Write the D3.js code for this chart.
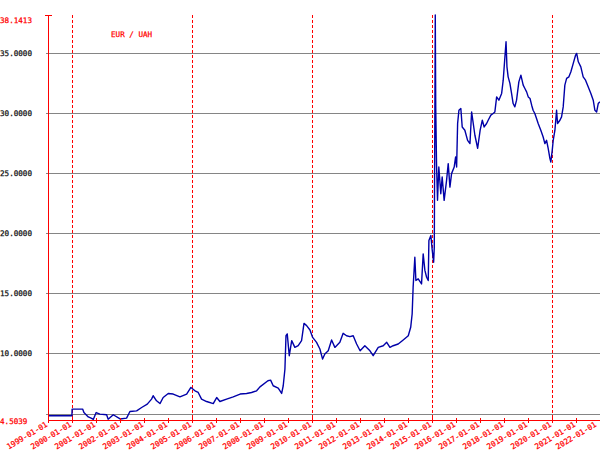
<!DOCTYPE html>
<html>
<head>
<meta charset="utf-8">
<script src="https://cdn.jsdelivr.net/npm/d3@7"></script>
<style>
  html, body { margin: 0; padding: 0; background: #fff; }
  svg { display: block; }
</style>
</head>
<body>
<svg id="chart" width="600" height="450"></svg>
<script>
// ---------------- DATA ----------------
const title = "EUR / UAH";
const yMin = 4.5039;
const yMax = 38.1413;
const yGridValues = [5, 10, 15, 20, 25, 30, 35];
const yLabelValues = [10, 15, 20, 25, 30, 35];
const dashedYears = ["2000-01-01", "2005-01-01", "2010-01-01", "2015-01-01", "2020-01-01"];
const xStart = "1999-01-01";
const xEnd = "2022-01-01";

const dates = [
  "1999-01-01","1999-12-31","2000-01-03","2000-06-11","2000-07-01","2000-09-05","2000-10-26","2000-11-20",
  "2001-01-03","2001-03-01","2001-06-11","2001-07-05","2001-09-20",
  "2002-01-02","2002-04-11","2002-06-01","2002-09-11","2002-11-26",
  "2003-02-20","2003-04-26","2003-05-20","2003-07-11","2003-09-01","2003-10-20",
  "2004-01-05","2004-03-20","2004-07-01","2004-10-11","2004-12-15",
  "2005-02-15","2005-04-05","2005-05-26","2005-08-11","2005-11-20",
  "2006-01-11","2006-03-01","2006-06-11","2006-09-20",
  "2007-01-03","2007-04-11","2007-06-26","2007-09-11","2007-11-01",
  "2008-03-01","2008-04-11","2008-05-20","2008-08-05","2008-09-26","2008-10-20","2008-11-15","2008-12-01","2008-12-20",
  "2009-01-20","2009-02-26","2009-04-15","2009-06-05","2009-07-26","2009-09-01","2009-10-11","2009-12-01",
  "2010-01-11","2010-03-11","2010-05-01","2010-06-11","2010-07-15","2010-09-05","2010-10-26","2010-12-15",
  "2011-03-01","2011-04-20","2011-06-11","2011-08-01","2011-09-20","2011-11-11",
  "2012-01-03","2012-03-15","2012-06-01","2012-07-20","2012-10-05","2012-12-20",
  "2013-02-11","2013-04-01","2013-05-20","2013-08-05","2013-10-20",
  "2014-01-05","2014-02-11","2014-03-05","2014-03-20","2014-04-15","2014-05-01","2014-06-05","2014-07-26","2014-08-20","2014-09-15","2014-10-11","2014-11-05","2014-11-15","2014-12-15",
  "2015-01-05","2015-01-26","2015-02-05","2015-02-20","2015-02-27","2015-03-11","2015-03-26","2015-04-15","2015-05-15","2015-06-05","2015-07-05","2015-08-11","2015-09-05","2015-10-01","2015-10-26","2015-12-05","2015-12-26",
  "2016-01-11","2016-01-26","2016-02-15","2016-03-15","2016-04-05","2016-05-15","2016-06-26","2016-08-01","2016-08-26","2016-09-20","2016-10-15","2016-11-26",
  "2017-01-03","2017-02-05","2017-03-05","2017-04-11","2017-05-05","2017-06-15","2017-07-20","2017-08-15","2017-09-11","2017-10-15","2017-11-26","2017-12-20",
  "2018-01-15","2018-02-01","2018-02-15","2018-03-05","2018-04-01","2018-04-26","2018-05-20","2018-06-15","2018-07-11","2018-08-15","2018-09-15","2018-10-20","2018-11-15","2018-12-11",
  "2019-01-05","2019-02-01","2019-02-26","2019-03-20","2019-04-15","2019-05-11","2019-06-05","2019-07-15","2019-08-20","2019-09-15","2019-10-11","2019-11-05","2019-12-01","2019-12-15",
  "2020-01-05","2020-01-20","2020-02-15","2020-03-11","2020-03-26","2020-05-01","2020-05-26","2020-06-20","2020-07-15","2020-08-11","2020-09-15","2020-10-15","2020-11-20","2020-12-26",
  "2021-01-11","2021-02-05","2021-03-15","2021-04-20","2021-05-26","2021-07-05","2021-08-15","2021-09-20","2021-10-15","2021-11-11","2021-12-05","2021-12-31"
];

const rates = [
  4.82,4.82,5.37,5.37,5.08,4.72,4.60,4.51,
  5.08,4.95,4.90,4.53,4.90,
  4.55,4.62,5.17,5.22,5.50,
  5.78,6.20,6.48,6.06,5.83,6.33,
  6.67,6.62,6.39,6.62,7.17,
  6.89,6.75,6.20,6.00,5.83,
  6.33,6.00,6.20,6.39,
  6.62,6.67,6.75,6.89,7.22,
  7.73,7.78,7.31,7.12,6.67,7.31,8.70,11.47,11.62,
  9.81,11.06,10.50,10.64,11.06,12.50,12.31,11.95,
  11.33,10.92,10.37,9.53,9.95,10.22,11.12,10.50,
  10.92,11.67,11.47,11.39,11.47,10.78,
  10.22,10.64,10.22,9.81,10.50,10.64,
  10.92,10.50,10.64,10.78,11.12,
  11.47,12.17,13.28,15.50,18.00,16.06,16.20,15.78,18.28,16.90,16.33,16.06,19.39,19.80,
  18.56,17.58,18.83,38.14,30.50,25.78,22.73,25.50,23.28,24.67,22.73,24.39,25.78,23.83,24.95,25.50,26.33,
  25.50,29.12,30.22,30.37,28.83,28.56,27.72,27.45,30.08,29.12,28.14,27.06,
  28.56,29.39,28.83,29.12,29.39,29.81,29.95,30.08,31.33,31.06,31.62,32.72,
  34.67,35.92,33.83,33.00,32.45,31.62,30.78,30.50,31.06,32.58,33.14,32.31,32.03,31.75,
  31.33,31.20,30.64,30.22,29.95,29.53,29.12,28.56,28.00,27.45,27.72,27.03,26.20,25.92,
  26.89,27.72,28.56,30.22,29.12,29.39,29.67,30.50,32.31,32.87,33.00,33.42,34.12,34.81,
  34.95,34.25,33.83,33.00,32.72,32.17,31.62,31.06,30.22,30.08,30.78,30.92
];

// ---------------- CHART ----------------
const parse = d3.utcParse("%Y-%m-%d");
const fmt = d3.utcFormat("%Y-%m-%d");
const n = Math.min(dates.length, rates.length);
const series = d3.range(n).map(i => ({ d: parse(dates[i]), v: rates[i] }));

const svg = d3.select("#chart");
const FONT = "'DejaVu Sans Mono', 'Liberation Mono', monospace";
const FS = 7.6;
const RED = "#ff0000";

const x = d3.scaleUtc().domain([parse(xStart), parse(xEnd)]).range([48, 600]);
const y = d3.scaleLinear().domain([yMin, yMax]).range([419.5, 15]);
const crisp = v => Math.round(v) + 0.5;

svg.append("rect").attr("width", 600).attr("height", 450).attr("fill", "#fff");

function label(sel, color) {
  return sel.attr("font-family", FONT).attr("font-size", FS)
    .attr("fill", color).attr("stroke", color).attr("stroke-width", 0.25);
}

// horizontal grid lines
svg.append("g").selectAll("line").data(yGridValues).join("line")
  .attr("x1", 46).attr("x2", 600)
  .attr("y1", d => crisp(y(d))).attr("y2", d => crisp(y(d)))
  .attr("stroke", "#858585").attr("stroke-width", 1);

// dashed vertical lines
svg.append("g").selectAll("line").data(dashedYears).join("line")
  .attr("x1", d => crisp(x(parse(d)))).attr("x2", d => crisp(x(parse(d))))
  .attr("y1", 15).attr("y2", 420)
  .attr("stroke", RED).attr("stroke-width", 1).attr("stroke-dasharray", "3,2");

// y labels
label(svg.append("g").selectAll("text").data(yLabelValues).join("text")
  .attr("x", 0).attr("y", d => y(d) + 2.8), "#111")
  .text(d => d.toFixed(4));
label(svg.append("text").attr("x", 0).attr("y", 22.5), RED).text(yMax.toFixed(4));
label(svg.append("text").attr("x", 0).attr("y", 424), RED).text(yMin.toFixed(4));

// title
label(svg.append("text").attr("x", 111).attr("y", 36.5), RED).text(title);

// data line
const line = d3.line().x(d => x(d.d)).y(d => y(d.v));
svg.append("path").datum(series)
  .attr("fill", "none").attr("stroke", "#0000a8").attr("stroke-width", 1.4)
  .attr("stroke-linejoin", "round")
  .attr("d", line);

// y axis line
svg.append("line").attr("x1", 48.5).attr("x2", 48.5).attr("y1", 15).attr("y2", 421)
  .attr("stroke", RED).attr("stroke-width", 1);
svg.append("line").attr("x1", 45).attr("x2", 52).attr("y1", 15.5).attr("y2", 15.5)
  .attr("stroke", RED).attr("stroke-width", 1);

// x axis
const xTicks = x.ticks(d3.utcYear.every(1));
svg.append("line").attr("x1", 48).attr("x2", 600).attr("y1", 420.5).attr("y2", 420.5)
  .attr("stroke", RED).attr("stroke-width", 1);
svg.append("g").selectAll("line").data(xTicks).join("line")
  .attr("x1", d => crisp(x(d))).attr("x2", d => crisp(x(d)))
  .attr("y1", 418).attr("y2", 423)
  .attr("stroke", RED).attr("stroke-width", 1);
label(svg.append("g").selectAll("text").data(xTicks).join("text")
  .attr("transform", d => `translate(${Math.min(x(d), 597)},426) rotate(-31)`)
  .attr("text-anchor", "end"), RED)
  .text(d => fmt(d));
</script>
</body>
</html>
